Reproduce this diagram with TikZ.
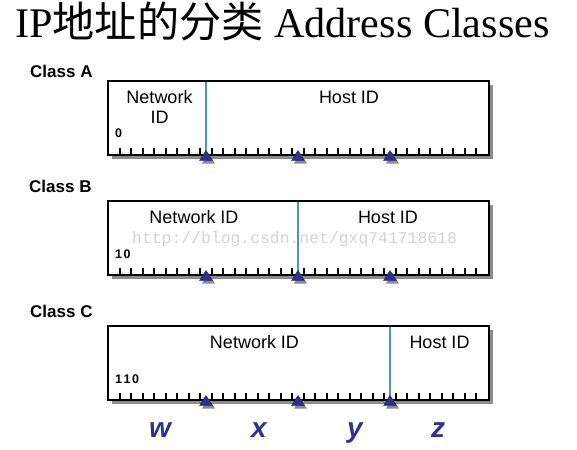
\documentclass[tikz,border=0pt]{standalone}
\usepackage{fontspec}
\setmainfont{Liberation Serif}
\setsansfont{Liberation Sans}
\setmonofont{Liberation Mono}
\newfontfamily\cjk{Noto Sans CJK SC}
\usetikzlibrary{shadows}
\definecolor{navy}{HTML}{2E3192}
\definecolor{tealline}{HTML}{4F9A9A}
\definecolor{shadowgray}{HTML}{8C8C8C}
\definecolor{wmgray}{HTML}{D4D4D4}
\tikzset{
  bitbox/.style={draw=black, line width=2pt, fill=white, minimum width=381pt,
    minimum height=74pt, anchor=north west, inner sep=0pt, outer sep=0pt,
    drop shadow={shadow xshift=4pt, shadow yshift=-4pt, fill=shadowgray, opacity=1}},
  tickline/.style={line width=1.6pt, black},
  divider/.style={line width=1.5pt, tealline},
  marker/.style={fill=navy, draw=navy!60!black, line width=0.4pt},
  markershadow/.style={fill=shadowgray},
  classlabel/.style={font=\sffamily\bfseries\fontsize{17}{20}\selectfont, anchor=base west, inner sep=0pt},
  fieldlabel/.style={font=\sffamily\fontsize{18}{20}\selectfont, anchor=base, inner sep=0pt},
  bitlabel/.style={font=\sffamily\bfseries\fontsize{12.5}{14}\selectfont, anchor=base west, inner sep=0pt},
  octetlabel/.style={font=\sffamily\bfseries\itshape\fontsize{28}{30}\selectfont, text=navy, anchor=base, inner sep=0pt},
  watermark/.style={font=\ttfamily\fontsize{16.4}{18}\selectfont, text=wmgray, anchor=base west, inner sep=0pt},
}
\begin{document}
\begin{tikzpicture}[x=1pt, y=-1pt]
\useasboundingbox (0,0) rectangle (577,449);
% title
\node[anchor=base west, inner sep=0pt, font=\fontsize{42.2}{46}\selectfont] (title) at (15,38)
  {IP{\cjk 地址的分类} Address Classes};
% boxes
\node[bitbox] (A) at (108,81) {};
\node[bitbox] (B) at (108,201) {};
\node[bitbox] (C) at (108,326) {};
% watermark
\node[watermark] (wm) at (132,243) {http://blog.csdn.net/gxq741718618};
% ticks, dividers, markers
\foreach \b/\d in {A/98, B/190, C/282} {
  \foreach \i in {0,...,31} {
    \draw[tickline] ([xshift={(6+(\i+0.5)*11.5)*1pt}]\b.south west) -- ++(0,-7.5);
  }
  \draw[divider] ([xshift=\d pt, yshift=-1pt]\b.north west) -- ([xshift=\d pt]\b.south west);
  \foreach \k in {8,16,24} {
    \fill[markershadow] ([xshift={(6+\k*11.5+2.5)*1pt}, yshift=-3pt]\b.south west)
      ++(0,-4.5) -- ++(6.5,10) -- ++(-13,0) -- cycle;
    \filldraw[marker] ([xshift={(6+\k*11.5)*1pt}]\b.south west)
      ++(0,-4.5) -- ++(6.5,10) -- ++(-13,0) -- cycle;
  }
}
% class labels
\node[classlabel] (lA) at (30,78) {Class A};
\node[classlabel] (lB) at (29,192) {Class B};
\node[classlabel] (lC) at (30,317) {Class C};
% field labels
\node[fieldlabel] (nA1) at (159.5,104) {Network};
\node[fieldlabel] (nA2) at (159.5,124) {ID};
\node[fieldlabel] (hA) at (349,104) {Host ID};
\node[fieldlabel] (nB) at (194,223) {Network ID};
\node[fieldlabel] (hB) at (388,223) {Host ID};
\node[fieldlabel] (nC) at (254.5,348) {Network ID};
\node[fieldlabel] (hC) at (439.5,348) {Host ID};
% bit prefixes
\node[bitlabel] (pA) at (115,138) {0};
\node[bitlabel] (pB) at (115,258) {1\kern1.5pt0};
\node[bitlabel] (pC) at (115,383) {1\kern1.5pt1\kern1.5pt0};
% octet letters
\node[octetlabel] (w) at (160,437) {w};
\node[octetlabel] (x) at (259,437) {x};
\node[octetlabel] (y) at (355,437) {y};
\node[octetlabel] (z) at (438,437) {z};
\end{tikzpicture}
\end{document}
